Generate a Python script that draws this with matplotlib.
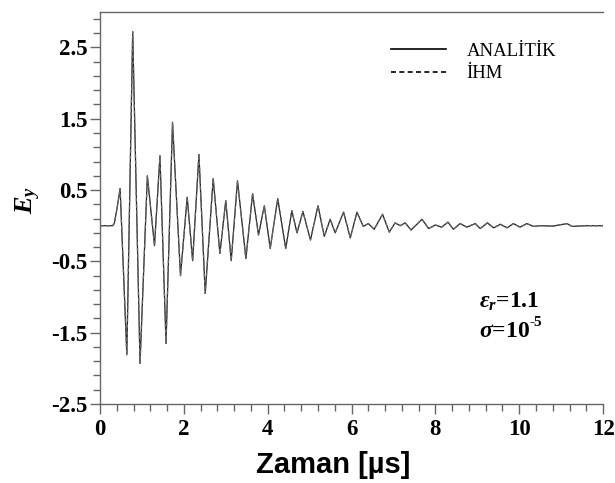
import matplotlib
matplotlib.use('Agg')
import matplotlib.pyplot as plt
import numpy as np
from matplotlib.ticker import MultipleLocator
from matplotlib.lines import Line2D

# Fuentes para el texto matematico (serif negrita cursiva)
plt.rcParams['mathtext.fontset'] = 'custom'
plt.rcParams['mathtext.it'] = 'Liberation Serif:bold:italic'
plt.rcParams['mathtext.rm'] = 'Liberation Serif:bold'
plt.rcParams['mathtext.bf'] = 'Liberation Serif:bold'
plt.rcParams['axes.unicode_minus'] = False

# Datos (tiempo en us, campo Ey)
zaman = [0.0, 0.30, 0.34, 0.40, 0.48, 0.64, 0.78, 0.955, 1.13, 1.30, 1.43, 1.575,
         1.73, 1.92, 2.08, 2.21, 2.36, 2.51, 2.70, 2.86, 3.00, 3.13, 3.28, 3.48,
         3.64, 3.78, 3.92, 4.06, 4.24, 4.43, 4.575, 4.70, 4.84, 5.02, 5.20, 5.35,
         5.49, 5.61, 5.81, 5.97, 6.13, 6.28, 6.40, 6.54, 6.74, 6.90, 7.04, 7.16,
         7.28, 7.42, 7.68, 7.84, 8.00, 8.15, 8.30, 8.43, 8.59, 8.75, 8.95, 9.07,
         9.24, 9.39, 9.55, 9.71, 9.86, 10.02, 10.18, 10.34, 10.50, 10.81, 11.14,
         11.26, 11.58, 12.0]
ey_analitik = [0.0, 0.0, 0.03, 0.22, 0.52, -1.81, 2.72, -1.93, 0.70, -0.28, 0.98, -1.65,
               1.45, -0.70, 0.40, -0.49, 1.00, -0.95, 0.66, -0.39, 0.35, -0.49, 0.63, -0.46,
               0.45, -0.13, 0.28, -0.32, 0.38, -0.32, 0.21, -0.10, 0.20, -0.20, 0.28, -0.15,
               0.09, -0.10, 0.19, -0.17, 0.19, -0.01, 0.03, -0.05, 0.16, -0.09, 0.04, 0.0,
               0.04, -0.06, 0.09, -0.04, 0.01, -0.02, 0.05, -0.05, 0.03, -0.02, 0.03, -0.04,
               0.04, -0.03, 0.02, -0.03, 0.03, -0.02, 0.03, -0.01, 0.0, -0.005, 0.03,
               -0.01, 0.0, 0.0]
ey_ihm = list(ey_analitik)

fig = plt.figure(figsize=(6.15, 4.83), dpi=100)
ax = fig.add_axes([0.1626, 0.1636, 0.818, 0.812])

# Curvas
ax.plot(zaman, ey_analitik, color='#222222', lw=0.9, label='ANALİTİK')
ax.plot(zaman, ey_ihm, color='#666666', lw=0.9, ls=(0, (3, 2)), label='İHM')

# Ejes
gris = '#666666'
ax.spines['right'].set_visible(False)
for s in ['left', 'bottom', 'top']:
    ax.spines[s].set_color(gris)
    ax.spines[s].set_linewidth(1.0)

ax.xaxis.set_major_locator(MultipleLocator(2))
ax.xaxis.set_minor_locator(MultipleLocator(0.4))
ax.yaxis.set_major_locator(MultipleLocator(1.0, offset=0.5))
ax.yaxis.set_minor_locator(MultipleLocator(0.2, offset=0.1))
ax.tick_params(which='both', direction='out', color=gris, width=1.0,
               top=False, right=False)
ax.tick_params(which='major', length=7)
ax.tick_params(which='minor', length=5)
ax.tick_params(axis='y', which='major', pad=2)

ax.set_xlim(0, 12)
ax.set_ylim(-2.5, 3.0)
for lab in ax.get_xticklabels() + ax.get_yticklabels():
    lab.set_fontfamily('Liberation Serif')
    lab.set_fontweight('bold')
    lab.set_fontsize(16.5)

ax.set_xlabel('Zaman [µs]', family='Liberation Sans', weight='bold', fontsize=21)
ax.xaxis.set_label_coords(0.463, -0.12)
fig.text(0.046, 0.585, r'$E_y$', rotation=90, ha='center', va='center', fontsize=19)

# Leyenda
handles = [Line2D([], [], color='black', lw=1.2),
           Line2D([], [], color='black', lw=1.2, ls=(0, (3, 2)))]
ax.legend(handles, ['ANALİTİK', 'İHM'], loc='upper right', frameon=False,
          bbox_to_anchor=(0.94, 0.965), handlelength=2.9, handletextpad=1.1,
          labelspacing=0.3, prop={'family': 'Liberation Serif', 'size': 13.5})

# Parametros
ax.text(0.753, 0.245, r'$\varepsilon_r$=1.1', transform=ax.transAxes,
        fontsize=17, weight='bold', family='Liberation Serif')
ax.text(0.753, 0.17, r'$\sigma$=10', transform=ax.transAxes,
        fontsize=17, weight='bold', family='Liberation Serif')
ax.text(0.854, 0.2, '-5', transform=ax.transAxes,
        fontsize=11, weight='bold', family='Liberation Serif')

fig.savefig('out.png', dpi=100)
